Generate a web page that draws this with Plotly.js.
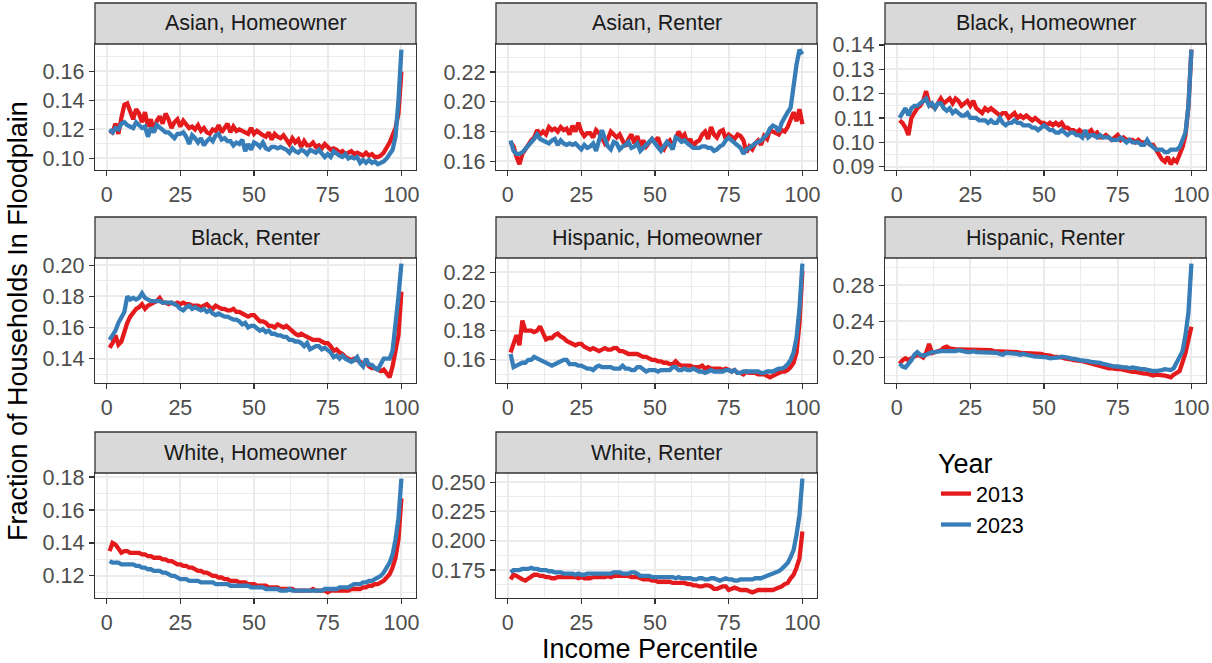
<!DOCTYPE html>
<html>
<head>
<meta charset="utf-8">
<script src="https://cdn.plot.ly/plotly-3.0.1.min.js"></script>
<style>html,body{margin:0;padding:0;background:#fff}#chart{width:1212px;height:663px}</style>
</head>
<body>
<div id="chart"></div>
<script>
// Income percentile (x) shared by every panel
const percentile = Array.from({length: 100}, (_, i) => i + 1);

const panelTitles = ["Asian, Homeowner", "Asian, Renter", "Black, Homeowner",
  "Black, Renter", "Hispanic, Homeowner", "Hispanic, Renter",
  "White, Homeowner", "White, Renter"];
const years = ["2013", "2023"];

// Asian, Homeowner
const asianOwn2013 = [0.119,0.118,0.124,0.117,0.128,0.137,0.138,0.133,0.127,0.134,
  0.131,0.125,0.132,0.122,0.127,0.118,0.126,0.129,0.124,0.131,
  0.127,0.121,0.125,0.127,0.122,0.126,0.123,0.121,0.122,0.120,
  0.123,0.119,0.121,0.118,0.117,0.120,0.119,0.123,0.118,0.121,
  0.124,0.118,0.122,0.119,0.120,0.119,0.118,0.117,0.121,0.117,
  0.119,0.117,0.116,0.115,0.118,0.113,0.117,0.115,0.114,0.116,
  0.113,0.110,0.114,0.111,0.113,0.108,0.112,0.109,0.109,0.111,
  0.108,0.109,0.107,0.110,0.108,0.106,0.107,0.106,0.104,0.105,
  0.103,0.104,0.105,0.103,0.104,0.103,0.102,0.104,0.102,0.103,
  0.101,0.101,0.102,0.104,0.107,0.111,0.116,0.121,0.131,0.160];
const asianOwn2023 = [0.120,0.118,0.121,0.120,0.124,0.125,0.123,0.122,0.121,0.125,
  0.123,0.121,0.122,0.115,0.121,0.118,0.123,0.121,0.119,0.118,
  0.118,0.116,0.114,0.117,0.117,0.118,0.115,0.110,0.116,0.114,
  0.111,0.114,0.109,0.112,0.114,0.112,0.116,0.117,0.113,0.114,
  0.112,0.112,0.109,0.111,0.110,0.113,0.105,0.110,0.106,0.111,
  0.110,0.108,0.111,0.107,0.106,0.108,0.108,0.107,0.108,0.107,
  0.106,0.104,0.107,0.105,0.104,0.106,0.105,0.103,0.106,0.105,
  0.104,0.106,0.103,0.101,0.103,0.101,0.105,0.103,0.102,0.101,
  0.103,0.100,0.101,0.100,0.101,0.097,0.099,0.097,0.099,0.097,
  0.098,0.096,0.097,0.098,0.100,0.103,0.106,0.115,0.140,0.175];

// Asian, Renter
const asianRent2013 = [0.173,0.170,0.163,0.158,0.165,0.168,0.172,0.174,0.176,0.181,
  0.178,0.180,0.178,0.183,0.181,0.182,0.180,0.183,0.181,0.182,
  0.178,0.184,0.180,0.186,0.180,0.177,0.179,0.179,0.176,0.181,
  0.179,0.176,0.172,0.175,0.180,0.178,0.176,0.178,0.174,0.170,
  0.175,0.178,0.172,0.177,0.170,0.174,0.170,0.172,0.175,0.173,
  0.176,0.170,0.168,0.172,0.174,0.170,0.176,0.180,0.176,0.178,
  0.172,0.175,0.170,0.173,0.174,0.178,0.180,0.175,0.183,0.178,
  0.176,0.180,0.181,0.175,0.178,0.176,0.175,0.178,0.177,0.174,
  0.166,0.170,0.168,0.172,0.174,0.171,0.177,0.175,0.181,0.180,
  0.179,0.178,0.181,0.180,0.183,0.188,0.193,0.187,0.195,0.185];
const asianRent2023 = [0.174,0.167,0.165,0.165,0.166,0.168,0.170,0.172,0.175,0.178,
  0.175,0.174,0.173,0.172,0.174,0.175,0.171,0.174,0.172,0.171,
  0.172,0.171,0.172,0.170,0.168,0.171,0.169,0.170,0.172,0.167,
  0.173,0.181,0.175,0.170,0.168,0.173,0.172,0.168,0.170,0.171,
  0.173,0.169,0.170,0.172,0.167,0.169,0.171,0.172,0.175,0.172,
  0.170,0.167,0.170,0.173,0.171,0.168,0.176,0.175,0.173,0.174,
  0.172,0.170,0.169,0.169,0.169,0.170,0.170,0.169,0.169,0.167,
  0.168,0.170,0.171,0.174,0.176,0.174,0.172,0.170,0.169,0.165,
  0.168,0.169,0.171,0.172,0.173,0.174,0.176,0.178,0.182,0.184,
  0.183,0.180,0.186,0.190,0.193,0.196,0.212,0.225,0.235,0.232];

// Black, Homeowner
const blackOwn2013 = [0.109,0.108,0.106,0.103,0.110,0.112,0.114,0.115,0.117,0.121,
  0.116,0.115,0.114,0.116,0.118,0.116,0.117,0.118,0.116,0.118,
  0.117,0.115,0.116,0.117,0.115,0.117,0.114,0.113,0.112,0.114,
  0.113,0.114,0.113,0.112,0.111,0.112,0.112,0.110,0.111,0.112,
  0.110,0.111,0.110,0.111,0.110,0.109,0.110,0.109,0.108,0.108,
  0.107,0.108,0.107,0.108,0.107,0.108,0.106,0.106,0.105,0.105,
  0.104,0.105,0.104,0.103,0.104,0.105,0.103,0.104,0.102,0.102,
  0.103,0.102,0.101,0.102,0.103,0.101,0.102,0.101,0.101,0.101,
  0.100,0.101,0.100,0.100,0.100,0.099,0.099,0.097,0.095,0.093,
  0.092,0.094,0.091,0.093,0.092,0.095,0.098,0.103,0.115,0.138];
const blackOwn2023 = [0.110,0.112,0.114,0.111,0.114,0.115,0.115,0.116,0.117,0.118,
  0.115,0.116,0.114,0.116,0.116,0.114,0.113,0.114,0.112,0.113,
  0.112,0.111,0.111,0.112,0.110,0.110,0.110,0.109,0.109,0.109,
  0.108,0.109,0.108,0.108,0.110,0.108,0.107,0.108,0.108,0.109,
  0.108,0.108,0.107,0.107,0.107,0.106,0.106,0.105,0.106,0.107,
  0.106,0.105,0.105,0.104,0.104,0.105,0.104,0.103,0.104,0.104,
  0.103,0.103,0.102,0.105,0.102,0.103,0.103,0.102,0.103,0.102,
  0.102,0.102,0.101,0.101,0.101,0.102,0.101,0.100,0.101,0.100,
  0.100,0.100,0.099,0.099,0.101,0.099,0.098,0.097,0.097,0.097,
  0.096,0.096,0.097,0.097,0.097,0.098,0.101,0.104,0.115,0.138];

// Black, Renter
const blackRent2013 = [0.147,0.150,0.155,0.149,0.151,0.158,0.163,0.167,0.170,0.172,
  0.173,0.175,0.172,0.174,0.175,0.176,0.177,0.179,0.176,0.176,
  0.175,0.176,0.175,0.176,0.175,0.176,0.175,0.175,0.174,0.174,
  0.174,0.173,0.174,0.175,0.173,0.172,0.174,0.173,0.172,0.172,
  0.171,0.171,0.172,0.170,0.170,0.169,0.168,0.167,0.168,0.168,
  0.166,0.164,0.164,0.163,0.161,0.161,0.160,0.162,0.161,0.160,
  0.161,0.159,0.157,0.156,0.155,0.156,0.155,0.154,0.153,0.152,
  0.152,0.152,0.151,0.150,0.150,0.148,0.145,0.146,0.144,0.143,
  0.141,0.140,0.139,0.140,0.139,0.138,0.137,0.138,0.135,0.134,
  0.134,0.133,0.132,0.133,0.130,0.128,0.135,0.147,0.155,0.183];
const blackRent2023 = [0.152,0.155,0.158,0.163,0.166,0.170,0.180,0.178,0.179,0.178,
  0.179,0.182,0.179,0.178,0.177,0.177,0.177,0.177,0.176,0.176,
  0.176,0.176,0.175,0.174,0.172,0.171,0.173,0.174,0.172,0.173,
  0.172,0.171,0.172,0.170,0.171,0.169,0.168,0.169,0.168,0.167,
  0.167,0.166,0.165,0.165,0.164,0.162,0.163,0.160,0.161,0.161,
  0.159,0.158,0.159,0.157,0.158,0.156,0.156,0.155,0.155,0.154,
  0.154,0.152,0.152,0.151,0.151,0.150,0.148,0.150,0.146,0.147,
  0.148,0.148,0.146,0.147,0.145,0.144,0.141,0.142,0.140,0.142,
  0.140,0.139,0.138,0.139,0.141,0.137,0.135,0.140,0.136,0.136,
  0.134,0.133,0.136,0.140,0.140,0.140,0.145,0.160,0.180,0.201];

// Hispanic, Homeowner
const hispOwn2013 = [0.165,0.172,0.177,0.170,0.187,0.180,0.180,0.180,0.179,0.180,
  0.183,0.178,0.174,0.175,0.175,0.177,0.178,0.176,0.175,0.173,
  0.172,0.171,0.170,0.171,0.171,0.169,0.168,0.167,0.168,0.167,
  0.166,0.167,0.168,0.167,0.167,0.168,0.168,0.166,0.166,0.165,
  0.164,0.164,0.164,0.164,0.163,0.162,0.162,0.161,0.160,0.160,
  0.159,0.159,0.158,0.158,0.157,0.157,0.159,0.157,0.156,0.156,
  0.156,0.156,0.155,0.155,0.155,0.156,0.154,0.155,0.154,0.154,
  0.154,0.154,0.153,0.154,0.153,0.152,0.153,0.151,0.151,0.150,
  0.152,0.151,0.151,0.151,0.150,0.150,0.150,0.149,0.148,0.149,
  0.150,0.151,0.152,0.152,0.153,0.155,0.158,0.165,0.185,0.221];
const hispOwn2023 = [0.164,0.155,0.156,0.157,0.158,0.158,0.160,0.160,0.162,0.161,
  0.160,0.159,0.158,0.157,0.156,0.157,0.158,0.159,0.160,0.160,
  0.157,0.157,0.157,0.156,0.156,0.155,0.154,0.154,0.153,0.155,
  0.156,0.155,0.155,0.155,0.155,0.154,0.154,0.154,0.156,0.154,
  0.154,0.153,0.153,0.155,0.155,0.153,0.152,0.153,0.153,0.153,
  0.152,0.153,0.153,0.153,0.153,0.155,0.155,0.153,0.153,0.154,
  0.153,0.153,0.154,0.153,0.152,0.152,0.151,0.152,0.153,0.152,
  0.152,0.152,0.152,0.153,0.153,0.152,0.153,0.151,0.151,0.152,
  0.152,0.152,0.152,0.152,0.152,0.151,0.151,0.152,0.152,0.152,
  0.153,0.154,0.154,0.155,0.157,0.160,0.165,0.175,0.195,0.226];

// Hispanic, Renter
const hispRent2013 = [0.193,0.197,0.199,0.197,0.199,0.201,0.203,0.202,0.200,0.205,
  0.215,0.205,0.206,0.207,0.208,0.211,0.212,0.210,0.209,0.209,
  0.209,0.209,0.208,0.209,0.209,0.208,0.208,0.208,0.209,0.208,
  0.208,0.208,0.207,0.207,0.206,0.207,0.207,0.207,0.206,0.206,
  0.206,0.205,0.205,0.205,0.205,0.204,0.204,0.204,0.204,0.203,
  0.203,0.202,0.201,0.201,0.200,0.200,0.199,0.199,0.198,0.197,
  0.197,0.196,0.196,0.195,0.194,0.194,0.193,0.192,0.191,0.190,
  0.189,0.188,0.188,0.187,0.187,0.187,0.186,0.186,0.185,0.184,
  0.184,0.183,0.183,0.182,0.182,0.181,0.180,0.181,0.181,0.180,
  0.180,0.179,0.178,0.181,0.183,0.185,0.195,0.205,0.220,0.234];
const hispRent2023 = [0.193,0.190,0.189,0.193,0.197,0.203,0.206,0.203,0.202,0.203,
  0.205,0.206,0.206,0.207,0.207,0.207,0.207,0.206,0.207,0.207,
  0.208,0.207,0.207,0.206,0.206,0.207,0.206,0.206,0.205,0.206,
  0.206,0.205,0.205,0.205,0.204,0.203,0.205,0.205,0.204,0.204,
  0.204,0.203,0.204,0.203,0.202,0.202,0.201,0.201,0.201,0.200,
  0.200,0.199,0.199,0.199,0.200,0.201,0.201,0.200,0.199,0.199,
  0.198,0.197,0.197,0.196,0.196,0.195,0.195,0.194,0.194,0.193,
  0.192,0.191,0.191,0.190,0.190,0.189,0.189,0.189,0.188,0.189,
  0.188,0.188,0.187,0.187,0.186,0.186,0.185,0.185,0.185,0.186,
  0.187,0.187,0.186,0.188,0.195,0.200,0.207,0.225,0.250,0.304];

// White, Homeowner
const whiteOwn2013 = [0.135,0.140,0.139,0.136,0.134,0.135,0.135,0.134,0.134,0.134,
  0.134,0.133,0.133,0.132,0.132,0.131,0.131,0.131,0.130,0.130,
  0.129,0.129,0.128,0.127,0.127,0.126,0.126,0.125,0.125,0.124,
  0.123,0.123,0.122,0.122,0.121,0.120,0.120,0.119,0.119,0.118,
  0.118,0.117,0.117,0.117,0.116,0.116,0.116,0.115,0.115,0.115,
  0.114,0.114,0.114,0.114,0.113,0.113,0.113,0.113,0.112,0.112,
  0.112,0.112,0.112,0.111,0.111,0.111,0.111,0.111,0.111,0.112,
  0.111,0.111,0.111,0.111,0.110,0.111,0.111,0.111,0.111,0.111,
  0.111,0.111,0.112,0.112,0.112,0.112,0.113,0.113,0.114,0.114,
  0.115,0.115,0.116,0.117,0.119,0.121,0.125,0.131,0.142,0.167];
const whiteOwn2023 = [0.129,0.128,0.128,0.128,0.127,0.127,0.127,0.127,0.127,0.126,
  0.126,0.125,0.125,0.124,0.124,0.123,0.123,0.123,0.122,0.122,
  0.121,0.120,0.120,0.119,0.118,0.118,0.118,0.117,0.117,0.117,
  0.117,0.116,0.116,0.116,0.116,0.116,0.115,0.115,0.115,0.115,
  0.115,0.114,0.114,0.114,0.114,0.114,0.114,0.114,0.113,0.113,
  0.113,0.113,0.113,0.112,0.112,0.112,0.112,0.112,0.111,0.111,
  0.111,0.112,0.111,0.111,0.111,0.111,0.111,0.111,0.111,0.111,
  0.111,0.111,0.111,0.112,0.112,0.112,0.112,0.112,0.113,0.113,
  0.113,0.113,0.114,0.115,0.115,0.115,0.116,0.116,0.117,0.117,
  0.118,0.119,0.120,0.122,0.125,0.128,0.133,0.142,0.155,0.179];

// White, Renter
const whiteRent2013 = [0.167,0.171,0.170,0.168,0.167,0.166,0.168,0.170,0.171,0.171,
  0.170,0.170,0.169,0.169,0.168,0.168,0.169,0.169,0.169,0.169,
  0.169,0.169,0.169,0.168,0.169,0.168,0.168,0.168,0.169,0.169,
  0.169,0.169,0.169,0.170,0.169,0.170,0.170,0.170,0.170,0.170,
  0.170,0.169,0.169,0.169,0.168,0.167,0.167,0.167,0.166,0.166,
  0.165,0.165,0.165,0.165,0.165,0.164,0.164,0.164,0.164,0.164,
  0.163,0.163,0.162,0.162,0.161,0.161,0.162,0.162,0.161,0.159,
  0.159,0.160,0.161,0.161,0.158,0.159,0.160,0.159,0.158,0.158,
  0.158,0.157,0.156,0.157,0.158,0.158,0.158,0.158,0.158,0.158,
  0.159,0.160,0.161,0.163,0.164,0.168,0.171,0.177,0.185,0.208];
const whiteRent2023 = [0.173,0.175,0.175,0.175,0.176,0.176,0.176,0.177,0.176,0.176,
  0.175,0.175,0.175,0.174,0.174,0.173,0.173,0.173,0.172,0.172,
  0.172,0.172,0.171,0.172,0.171,0.171,0.172,0.172,0.172,0.172,
  0.172,0.172,0.172,0.172,0.172,0.173,0.173,0.173,0.172,0.172,
  0.172,0.173,0.173,0.172,0.170,0.170,0.170,0.170,0.169,0.169,
  0.169,0.169,0.169,0.169,0.169,0.169,0.168,0.169,0.168,0.168,
  0.168,0.168,0.167,0.167,0.168,0.168,0.167,0.167,0.168,0.168,
  0.167,0.166,0.167,0.168,0.167,0.167,0.166,0.166,0.167,0.167,
  0.167,0.167,0.167,0.168,0.168,0.168,0.169,0.170,0.171,0.172,
  0.173,0.174,0.176,0.178,0.181,0.186,0.192,0.205,0.222,0.253];

// y tick labels per panel
const yTicks = [
  ["0.10","0.12","0.14","0.16"],
  ["0.16","0.18","0.20","0.22"],
  ["0.09","0.10","0.11","0.12","0.13","0.14"],
  ["0.14","0.16","0.18","0.20"],
  ["0.16","0.18","0.20","0.22"],
  ["0.20","0.24","0.28"],
  ["0.12","0.14","0.16","0.18"],
  ["0.175","0.200","0.225","0.250"]
];
const xTicks = ["0","25","50","75","100"];

const series2013 = [asianOwn2013, asianRent2013, blackOwn2013, blackRent2013,
  hispOwn2013, hispRent2013, whiteOwn2013, whiteRent2013];
const series2023 = [asianOwn2023, asianRent2023, blackOwn2023, blackRent2023,
  hispOwn2023, hispRent2023, whiteOwn2023, whiteRent2023];

// ---- layout geometry (pixels) ----
const W = 1212, H = 663;
const colPx = [[95, 416], [496, 817], [885, 1206]];
const rowPx = [[44, 170], [258, 383], [473, 598]]; // plot areas (top, bottom)
const stripH = 41;
const colors = {"2013": "#E41A1C", "2023": "#377EB8"};
const fontFam = "Liberation Sans, Arial, Helvetica, sans-serif";
const smallFont = 21.5, bigFont = 27;

function yRangeFor(a, b) {
  const all = a.concat(b);
  const mn = Math.min(...all), mx = Math.max(...all);
  const pad = (mx - mn) * 0.05;
  return [mn - pad, mx + pad];
}

const traces = [];
const layout = {
  width: W, height: H,
  margin: {l: 0, r: 0, t: 0, b: 0},
  paper_bgcolor: "#ffffff",
  plot_bgcolor: "#ffffff",
  font: {family: fontFam, color: "#000000"},
  showlegend: true,
  legend: {
    x: 936 / W, y: 1 - 438 / H, xanchor: "left", yanchor: "top",
    title: {text: "Year", font: {size: bigFont, color: "#000000"}},
    font: {size: smallFont, color: "#000000"},
    bgcolor: "rgba(0,0,0,0)", tracegroupgap: 0, itemwidth: 30
  },
  shapes: [], annotations: []
};

for (let p = 0; p < 8; p++) {
  const r = Math.floor(p / 3), c = p % 3;
  const idx = p + 1;
  const xa = "x" + (idx === 1 ? "" : idx), ya = "y" + (idx === 1 ? "" : idx);
  const xKey = "xaxis" + (idx === 1 ? "" : idx), yKey = "yaxis" + (idx === 1 ? "" : idx);
  const [x0, x1] = colPx[c];
  const [top, bot] = rowPx[r];
  const yvals = yTicks[p].map(Number);
  const step = yvals[1] - yvals[0];

  layout[xKey] = {
    domain: [x0 / W, x1 / W], anchor: ya,
    range: [-3.95, 104.95],
    tickmode: "array", tickvals: xTicks.map(Number), ticktext: xTicks,
    showgrid: true, gridcolor: "#EBEBEB", gridwidth: 2,
    minor: {showgrid: true, gridcolor: "#EBEBEB", gridwidth: 1, tickmode: "array",
            tickvals: [12.5, 37.5, 62.5, 87.5]},
    showline: true, linecolor: "#333333", linewidth: 1.3, mirror: true,
    ticks: "outside", ticklen: 5, tickwidth: 1.3, tickcolor: "#333333",
    tickfont: {size: smallFont, color: "#4D4D4D", family: fontFam},
    zeroline: false, fixedrange: true
  };
  const minorVals = [];
  for (let k = -2; k < yvals.length + 2; k++) minorVals.push(yvals[0] + (k - 0.5) * step);
  layout[yKey] = {
    domain: [1 - bot / H, 1 - top / H], anchor: xa,
    range: yRangeFor(series2013[p], series2023[p]),
    tickmode: "array", tickvals: yvals, ticktext: yTicks[p],
    showgrid: true, gridcolor: "#EBEBEB", gridwidth: 2,
    minor: {showgrid: true, gridcolor: "#EBEBEB", gridwidth: 1, tickmode: "array",
            tickvals: minorVals},
    showline: true, linecolor: "#333333", linewidth: 1.3, mirror: true,
    ticks: "outside", ticklen: 5, tickwidth: 1.3, tickcolor: "#333333",
    tickfont: {size: smallFont, color: "#4D4D4D", family: fontFam},
    zeroline: false, fixedrange: true
  };

  traces.push({
    type: "scatter", mode: "lines", x: percentile, y: series2013[p],
    xaxis: xa, yaxis: ya, name: years[0], legendgroup: years[0], showlegend: p === 0,
    line: {color: colors["2013"], width: 4.3}, hoverinfo: "skip"
  });
  traces.push({
    type: "scatter", mode: "lines", x: percentile, y: series2023[p],
    xaxis: xa, yaxis: ya, name: years[1], legendgroup: years[1], showlegend: p === 0,
    line: {color: colors["2023"], width: 4.3}, hoverinfo: "skip"
  });

  // strip
  layout.shapes.push({
    type: "rect", xref: "paper", yref: "paper",
    x0: x0 / W, x1: x1 / W, y0: 1 - top / H, y1: 1 - (top - stripH) / H,
    fillcolor: "#D9D9D9", line: {color: "#333333", width: 1.3}, layer: "above"
  });
  layout.annotations.push({
    xref: "paper", yref: "paper", x: (x0 + x1) / 2 / W, y: 1 - (top - stripH / 2) / H,
    text: panelTitles[p], showarrow: false, xanchor: "center", yanchor: "middle",
    font: {size: smallFont, color: "#1A1A1A", family: fontFam}
  });
}

layout.annotations.push({
  xref: "paper", yref: "paper", x: 650 / W, y: 1 - 649 / H,
  text: "Income Percentile", showarrow: false, xanchor: "center", yanchor: "middle",
  font: {size: bigFont, color: "#000000", family: fontFam}
});
layout.annotations.push({
  xref: "paper", yref: "paper", x: 18 / W, y: 1 - 321 / H,
  text: "Fraction of Households In Floodplain", showarrow: false, textangle: -90,
  xanchor: "center", yanchor: "middle",
  font: {size: bigFont, color: "#000000", family: fontFam}
});

Plotly.newPlot("chart", traces, layout, {displayModeBar: false, staticPlot: true});
</script>
</body>
</html>
